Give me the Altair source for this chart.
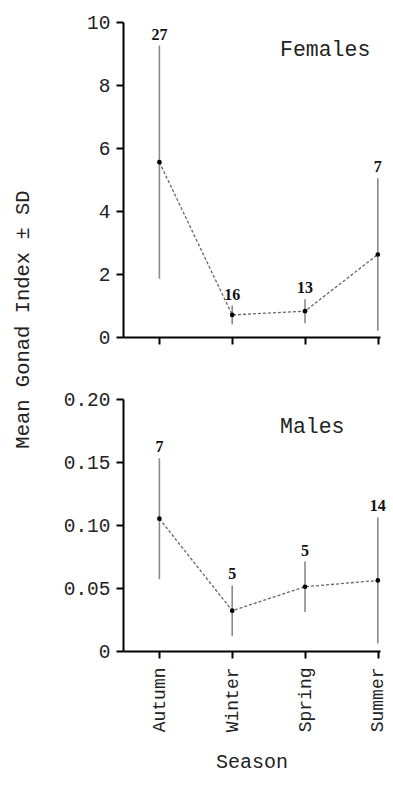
import altair as alt
import pandas as pd

seasons = ["Autumn", "Winter", "Spring", "Summer"]
season_idx = [1, 2, 3, 4]

f_mean = [5.55, 0.70, 0.82, 2.62]
f_sd = [3.70, 0.30, 0.38, 2.42]
f_n = [27, 16, 13, 7]

m_mean = [0.105, 0.032, 0.051, 0.056]
m_sd = [0.048, 0.020, 0.020, 0.050]
m_n = [7, 5, 5, 14]

f_ticks = [0, 2, 4, 6, 8, 10]
m_ticks = [0, 0.05, 0.10, 0.15, 0.20]

AXIS_FONT = "Liberation Mono"
NUM_FONT = "Liberation Serif"

label_expr = "[" + ",".join("'%s'" % s for s in seasons) + "][datum.value - 1]"


def make_df(mean, sd, n):
    return pd.DataFrame({
        "idx": season_idx,
        "season": seasons,
        "mean": mean,
        "lo": [m - s for m, s in zip(mean, sd)],
        "hi": [m + s for m, s in zip(mean, sd)],
        "n": [str(v) for v in n],
    })


def panel(df, ydomain, yticks, ylabel_expr, title_text, show_x_labels, ytitle):
    x_axis = alt.Axis(
        values=season_idx,
        labels=show_x_labels,
        labelExpr=label_expr,
        labelAngle=-90,
        labelAlign="right",
        labelBaseline="middle",
        labelPadding=9,
        labelFont=AXIS_FONT,
        labelFontSize=18,
        title="Season" if show_x_labels else None,
        titleFont=AXIS_FONT,
        titleFontSize=20,
        titleFontWeight="normal",
        titlePadding=20,
    )
    x = alt.X("idx:Q", scale=alt.Scale(domain=[0.5, 4.03], nice=False, zero=False), axis=x_axis)
    y_axis_kwargs = dict(
        values=yticks,
        labelExpr=ylabel_expr,
        labelFont=AXIS_FONT,
        labelFontSize=19.5,
        labelPadding=6,
    )
    if ytitle:
        y_axis_kwargs.update(
            title="Mean Gonad Index \u00b1 SD",
            titleFont=AXIS_FONT,
            titleFontSize=20.5,
            titleFontWeight="normal",
            titleAngle=-90,
            titleX=-101,
            titleY=297,
            titleAlign="center",
            titleBaseline="middle",
        )
    else:
        y_axis_kwargs.update(title=None)
    y_scale = alt.Scale(domain=ydomain, nice=False)
    base = alt.Chart(df)
    whisk = base.mark_rule(color="#8a8a8a", strokeWidth=1.6).encode(
        x=x,
        y=alt.Y("lo:Q", scale=y_scale, axis=alt.Axis(**y_axis_kwargs)),
        y2="hi:Q",
    )
    line = base.mark_line(color="#666666", strokeWidth=1.3, strokeDash=[3, 2]).encode(
        x=x, y=alt.Y("mean:Q", scale=y_scale)
    )
    pts = base.mark_circle(color="black", size=22, opacity=1).encode(
        x=x, y=alt.Y("mean:Q", scale=y_scale)
    )
    nums = base.mark_text(font=NUM_FONT, fontWeight="bold", fontSize=16, baseline="middle", dy=-11, color="#111").encode(
        x=x, y=alt.Y("hi:Q", scale=y_scale), text="n:N"
    )
    ttl = alt.Chart(pd.DataFrame({"label": [title_text]})).mark_text(
        font=AXIS_FONT, fontSize=21.5, align="left", baseline="middle", color="#222"
    ).encode(text="label:N", x=alt.value(157), y=alt.value(28))
    return alt.layer(whisk, line, pts, nums, ttl)


top = panel(
    make_df(f_mean, f_sd, f_n), [0, 10], f_ticks, "format(datum.value, 'd')", "Females", False, True
).properties(width=257, height=315)

bottom = panel(
    make_df(m_mean, m_sd, m_n), [0, 0.2], m_ticks,
    "datum.value == 0 ? '0' : format(datum.value, '.2f')", "Males", True, False
).properties(width=257, height=252)

chart = alt.vconcat(top, bottom, spacing=62, bounds="flush").properties(
    padding={"left": 12, "top": 12, "right": 2, "bottom": 8}
).configure_view(stroke=None).configure_axis(
    domainColor="black", domainWidth=2, tickColor="black", tickWidth=2, tickSize=7,
    grid=False, labelColor="#222", titleColor="#222"
)

chart.save("out.html", embed_options={"renderer": "svg", "actions": False})
